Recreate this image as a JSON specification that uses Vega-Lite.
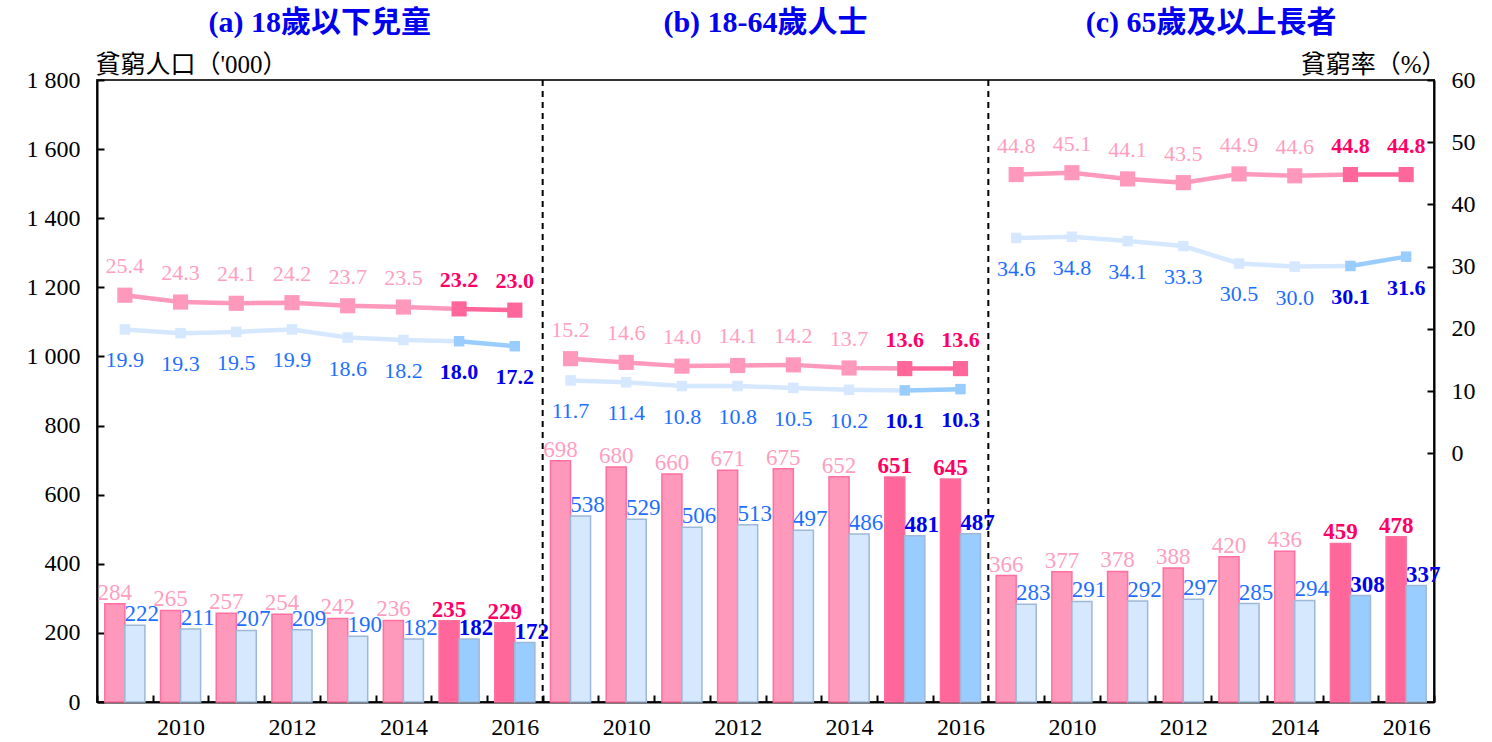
{
  "$schema": "https://vega.github.io/schema/vega-lite/v6.json",
  "width": 1337,
  "height": 622,
  "autosize": "none",
  "padding": {"left": 97, "top": 80, "right": 58, "bottom": 40},
  "background": "white",
  "config": {
    "font": "Liberation Serif, Noto Sans CJK TC",
    "view": {"stroke": "#333333", "strokeWidth": 2},
    "axis": {"grid": false, "domainColor": "black", "domainWidth": 2, "tickColor": "black", "tickWidth": 2, "labelColor": "black", "titleColor": "black"}
  },
  "datasets": {
    "main": [
      {"key": "a-2009", "panel": "a", "year": 2009, "series": "pre", "pop": 284, "rate": 25.4},
      {"key": "a-2010", "panel": "a", "year": 2010, "series": "pre", "pop": 265, "rate": 24.3},
      {"key": "a-2011", "panel": "a", "year": 2011, "series": "pre", "pop": 257, "rate": 24.1},
      {"key": "a-2012", "panel": "a", "year": 2012, "series": "pre", "pop": 254, "rate": 24.2},
      {"key": "a-2013", "panel": "a", "year": 2013, "series": "pre", "pop": 242, "rate": 23.7},
      {"key": "a-2014", "panel": "a", "year": 2014, "series": "pre", "pop": 236, "rate": 23.5},
      {"key": "a-2015", "panel": "a", "year": 2015, "series": "pre", "pop": 235, "rate": 23.2},
      {"key": "a-2016", "panel": "a", "year": 2016, "series": "pre", "pop": 229, "rate": 23.0},
      {"key": "a-2009", "panel": "a", "year": 2009, "series": "post", "pop": 222, "rate": 19.9},
      {"key": "a-2010", "panel": "a", "year": 2010, "series": "post", "pop": 211, "rate": 19.3},
      {"key": "a-2011", "panel": "a", "year": 2011, "series": "post", "pop": 207, "rate": 19.5},
      {"key": "a-2012", "panel": "a", "year": 2012, "series": "post", "pop": 209, "rate": 19.9},
      {"key": "a-2013", "panel": "a", "year": 2013, "series": "post", "pop": 190, "rate": 18.6},
      {"key": "a-2014", "panel": "a", "year": 2014, "series": "post", "pop": 182, "rate": 18.2},
      {"key": "a-2015", "panel": "a", "year": 2015, "series": "post", "pop": 182, "rate": 18.0},
      {"key": "a-2016", "panel": "a", "year": 2016, "series": "post", "pop": 172, "rate": 17.2},
      {"key": "b-2009", "panel": "b", "year": 2009, "series": "pre", "pop": 698, "rate": 15.2},
      {"key": "b-2010", "panel": "b", "year": 2010, "series": "pre", "pop": 680, "rate": 14.6},
      {"key": "b-2011", "panel": "b", "year": 2011, "series": "pre", "pop": 660, "rate": 14.0},
      {"key": "b-2012", "panel": "b", "year": 2012, "series": "pre", "pop": 671, "rate": 14.1},
      {"key": "b-2013", "panel": "b", "year": 2013, "series": "pre", "pop": 675, "rate": 14.2},
      {"key": "b-2014", "panel": "b", "year": 2014, "series": "pre", "pop": 652, "rate": 13.7},
      {"key": "b-2015", "panel": "b", "year": 2015, "series": "pre", "pop": 651, "rate": 13.6},
      {"key": "b-2016", "panel": "b", "year": 2016, "series": "pre", "pop": 645, "rate": 13.6},
      {"key": "b-2009", "panel": "b", "year": 2009, "series": "post", "pop": 538, "rate": 11.7},
      {"key": "b-2010", "panel": "b", "year": 2010, "series": "post", "pop": 529, "rate": 11.4},
      {"key": "b-2011", "panel": "b", "year": 2011, "series": "post", "pop": 506, "rate": 10.8},
      {"key": "b-2012", "panel": "b", "year": 2012, "series": "post", "pop": 513, "rate": 10.8},
      {"key": "b-2013", "panel": "b", "year": 2013, "series": "post", "pop": 497, "rate": 10.5},
      {"key": "b-2014", "panel": "b", "year": 2014, "series": "post", "pop": 486, "rate": 10.2},
      {"key": "b-2015", "panel": "b", "year": 2015, "series": "post", "pop": 481, "rate": 10.1},
      {"key": "b-2016", "panel": "b", "year": 2016, "series": "post", "pop": 487, "rate": 10.3},
      {"key": "c-2009", "panel": "c", "year": 2009, "series": "pre", "pop": 366, "rate": 44.8},
      {"key": "c-2010", "panel": "c", "year": 2010, "series": "pre", "pop": 377, "rate": 45.1},
      {"key": "c-2011", "panel": "c", "year": 2011, "series": "pre", "pop": 378, "rate": 44.1},
      {"key": "c-2012", "panel": "c", "year": 2012, "series": "pre", "pop": 388, "rate": 43.5},
      {"key": "c-2013", "panel": "c", "year": 2013, "series": "pre", "pop": 420, "rate": 44.9},
      {"key": "c-2014", "panel": "c", "year": 2014, "series": "pre", "pop": 436, "rate": 44.6},
      {"key": "c-2015", "panel": "c", "year": 2015, "series": "pre", "pop": 459, "rate": 44.8},
      {"key": "c-2016", "panel": "c", "year": 2016, "series": "pre", "pop": 478, "rate": 44.8},
      {"key": "c-2009", "panel": "c", "year": 2009, "series": "post", "pop": 283, "rate": 34.6},
      {"key": "c-2010", "panel": "c", "year": 2010, "series": "post", "pop": 291, "rate": 34.8},
      {"key": "c-2011", "panel": "c", "year": 2011, "series": "post", "pop": 292, "rate": 34.1},
      {"key": "c-2012", "panel": "c", "year": 2012, "series": "post", "pop": 297, "rate": 33.3},
      {"key": "c-2013", "panel": "c", "year": 2013, "series": "post", "pop": 285, "rate": 30.5},
      {"key": "c-2014", "panel": "c", "year": 2014, "series": "post", "pop": 294, "rate": 30.0},
      {"key": "c-2015", "panel": "c", "year": 2015, "series": "post", "pop": 308, "rate": 30.1},
      {"key": "c-2016", "panel": "c", "year": 2016, "series": "post", "pop": 337, "rate": 31.6}
    ],
    "seps": [{"key": "a-2016"}, {"key": "b-2016"}],
    "titles": [
      {"key": "a-2012", "title": "(a) 18歲以下兒童"},
      {"key": "b-2012", "title": "(b) 18-64歲人士"},
      {"key": "c-2012", "title": "(c) 65歲及以上長者"}
    ]
  },
  "data": {"name": "main"},
  "encoding": {
    "x": {
      "field": "key", "type": "nominal",
      "scale": {"paddingInner": 0, "paddingOuter": 0},
      "axis": {
        "title": null, "labelAngle": 0, "labelFontSize": 24,
        "labelExpr": "(substring(datum.value, 2) == '2010' || substring(datum.value, 2) == '2012' || substring(datum.value, 2) == '2014' || substring(datum.value, 2) == '2016') ? substring(datum.value, 2) : ''",
        "tickBand": "extent", "tickSize": -7, "labelPadding": 20
      }
    }
  },
  "layer": [
    {
      "encoding": {
        "xOffset": {"field": "series", "type": "nominal", "scale": {"domain": ["pre", "post"], "paddingInner": 0, "paddingOuter": 0.39}},
        "y": {
          "field": "pop", "type": "quantitative",
          "scale": {"domain": [0, 1800], "nice": false, "zero": true},
          "axis": {
            "orient": "left",
            "values": [0, 200, 400, 600, 800, 1000, 1200, 1400, 1600, 1800],
            "labelExpr": "replace(format(datum.value, ','), ',', ' ')",
            "labelFontSize": 24, "tickSize": -7, "labelPadding": 24,
            "title": "貧窮人口（'000）", "titleAngle": 0, "titleAlign": "left", "titleBaseline": "alphabetic",
            "titleX": -2, "titleY": -8, "titleFontSize": 25, "titleFontWeight": "normal"
          }
        }
      },
      "layer": [
        {
          "mark": {"type": "bar", "strokeWidth": 1.5},
          "encoding": {
            "fill": {
              "condition": [
                {"test": "datum.series == 'pre' && datum.year >= 2015", "value": "#FF6699"},
                {"test": "datum.series == 'pre'", "value": "#FF99BB"},
                {"test": "datum.year >= 2015", "value": "#99CCFF"}
              ],
              "value": "#D5E8FD"
            },
            "stroke": {
              "condition": {"test": "datum.series == 'pre'", "value": "#FF6F9F"},
              "value": "#9DB8D8"
            }
          }
        },
        {
          "transform": [{"filter": "datum.series == 'pre' && datum.year < 2015"}],
          "mark": {"type": "text", "baseline": "alphabetic", "dy": -4, "fontSize": 23, "color": "#FF9EC0"},
          "encoding": {"text": {"field": "pop"}}
        },
        {
          "transform": [{"filter": "datum.series == 'pre' && datum.year >= 2015"}],
          "mark": {"type": "text", "baseline": "alphabetic", "dy": -4, "fontSize": 23, "fontWeight": "bold", "color": "#FF0066"},
          "encoding": {"text": {"field": "pop"}}
        },
        {
          "transform": [{"filter": "datum.series == 'post' && datum.year < 2015"}],
          "mark": {"type": "text", "baseline": "alphabetic", "dy": -4, "dx": 7, "fontSize": 23, "color": "#1E6FFF"},
          "encoding": {"text": {"field": "pop"}}
        },
        {
          "transform": [{"filter": "datum.series == 'post' && datum.year >= 2015"}],
          "mark": {"type": "text", "baseline": "alphabetic", "dy": -4, "dx": 7, "fontSize": 23, "fontWeight": "bold", "color": "#0000EE"},
          "encoding": {"text": {"field": "pop"}}
        }
      ]
    },
    {
      "encoding": {
        "y": {
          "field": "rate", "type": "quantitative",
          "scale": {"domain": [-40, 60], "nice": false, "zero": false},
          "axis": {
            "orient": "right",
            "values": [0, 10, 20, 30, 40, 50, 60],
            "labelFontSize": 24, "tickSize": -7, "labelPadding": 24,
            "title": "貧窮率（%）", "titleAngle": 0, "titleAlign": "right", "titleBaseline": "alphabetic",
            "titleX": 12, "titleY": -8, "titleFontSize": 25, "titleFontWeight": "normal"
          }
        }
      },
      "layer": [
        {
          "transform": [{"filter": "datum.year <= 2015"}],
          "mark": {"type": "line", "strokeWidth": 4.5},
          "encoding": {
            "detail": [{"field": "panel"}, {"field": "series"}],
            "stroke": {"condition": {"test": "datum.series == 'pre'", "value": "#FF99BB"}, "value": "#D5E8FF"}
          }
        },
        {
          "transform": [{"filter": "datum.year >= 2015"}],
          "mark": {"type": "line", "strokeWidth": 4.5},
          "encoding": {
            "detail": [{"field": "panel"}, {"field": "series"}],
            "stroke": {"condition": {"test": "datum.series == 'pre'", "value": "#FF6699"}, "value": "#99CCFF"}
          }
        },
        {
          "mark": {"type": "point", "shape": "square", "filled": true, "opacity": 1},
          "encoding": {
            "size": {"condition": {"test": "datum.series == 'pre'", "value": 230}, "value": 110},
            "fill": {
              "condition": [
                {"test": "datum.series == 'pre' && datum.year >= 2015", "value": "#FF6699"},
                {"test": "datum.series == 'pre'", "value": "#FF99BB"},
                {"test": "datum.year >= 2015", "value": "#99CCFF"}
              ],
              "value": "#D5E8FF"
            }
          }
        },
        {
          "transform": [{"filter": "datum.series == 'pre' && datum.year < 2015"}],
          "mark": {"type": "text", "baseline": "alphabetic", "dy": -22, "fontSize": 22, "color": "#FF9EC0"},
          "encoding": {"text": {"field": "rate", "format": ".1f"}}
        },
        {
          "transform": [{"filter": "datum.series == 'pre' && datum.year >= 2015"}],
          "mark": {"type": "text", "baseline": "alphabetic", "dy": -22, "fontSize": 22, "fontWeight": "bold", "color": "#FF0066"},
          "encoding": {"text": {"field": "rate", "format": ".1f"}}
        },
        {
          "transform": [{"filter": "datum.series == 'post' && datum.year < 2015"}],
          "mark": {"type": "text", "baseline": "alphabetic", "dy": 38, "fontSize": 22, "color": "#1E6FFF"},
          "encoding": {"text": {"field": "rate", "format": ".1f"}}
        },
        {
          "transform": [{"filter": "datum.series == 'post' && datum.year >= 2015"}],
          "mark": {"type": "text", "baseline": "alphabetic", "dy": 38, "fontSize": 22, "fontWeight": "bold", "color": "#0000EE"},
          "encoding": {"text": {"field": "rate", "format": ".1f"}}
        }
      ]
    },
    {
      "data": {"name": "seps"},
      "mark": {"type": "rule", "strokeDash": [6, 5], "strokeWidth": 2, "color": "black"},
      "encoding": {"x": {"field": "key", "type": "nominal", "bandPosition": 1}}
    },
    {
      "data": {"name": "titles"},
      "mark": {"type": "text", "baseline": "alphabetic", "fontSize": 30, "fontWeight": "bold", "color": "#0000EE"},
      "encoding": {
        "x": {"field": "key", "type": "nominal", "bandPosition": 1},
        "y": {"datum": 1940, "type": "quantitative", "scale": {"domain": [0, 1800], "nice": false}, "axis": null},
        "text": {"field": "title"}
      }
    }
  ],
  "resolve": {"scale": {"y": "independent"}}
}
